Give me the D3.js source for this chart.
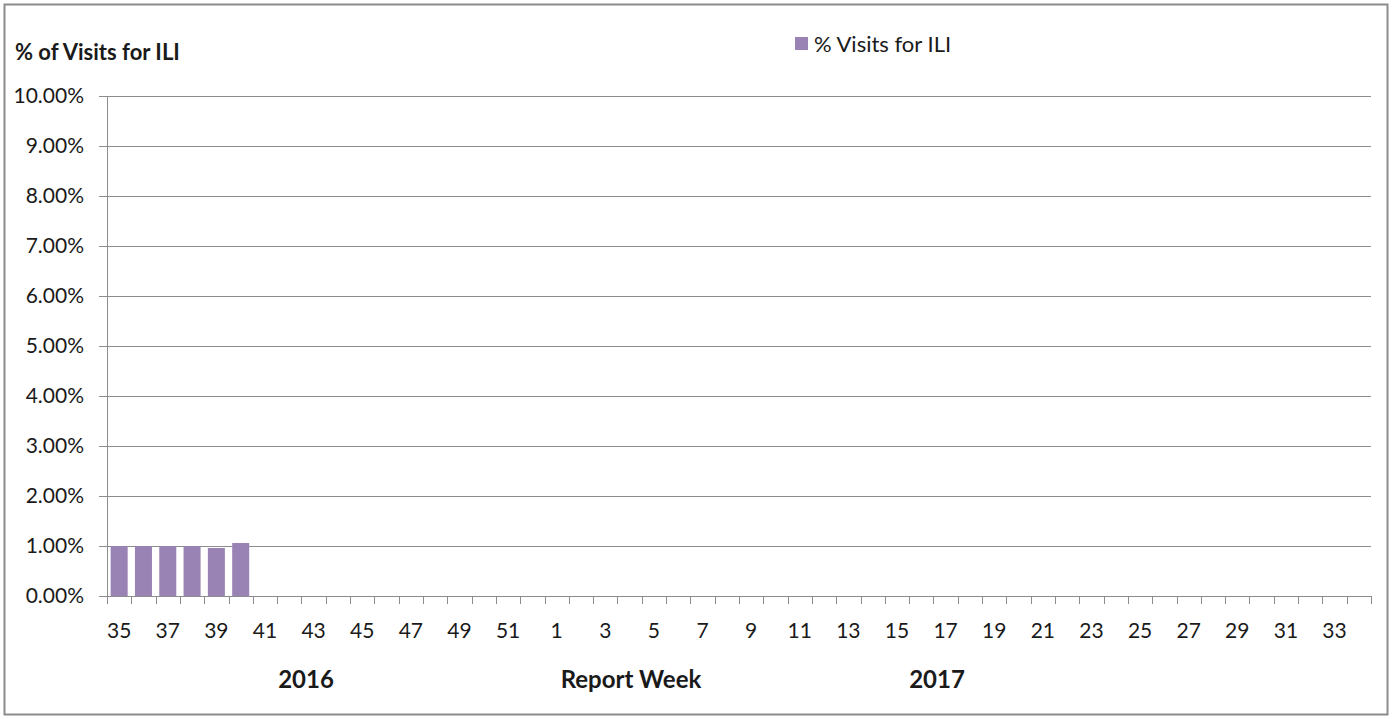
<!DOCTYPE html>
<html>
<head>
<meta charset="utf-8">
<script src="https://cdn.jsdelivr.net/npm/d3@7"></script>
<style>
  body { margin: 0; background: #fff; }
  svg text { font-family: Lato, "Open Sans", sans-serif; fill: #1a1a1a; }
</style>
</head>
<body>
<svg id="chart" width="1392" height="719"></svg>
<script>
// report weeks, season 2016-2017
const weeks = [35, 36, 37, 38, 39, 40, 41, 42, 43, 44, 45, 46, 47, 48, 49, 50, 51, 52,
  1, 2, 3, 4, 5, 6, 7, 8, 9, 10, 11, 12, 13, 14, 15, 16, 17, 18, 19, 20, 21, 22, 23, 24,
  25, 26, 27, 28, 29, 30, 31, 32, 33, 34];
const iliWeeks = [35, 36, 37, 38, 39, 40];
const iliValues = [0.0100, 0.0100, 0.0100, 0.0100, 0.0096, 0.0106];
const yTicks = [0, 0.01, 0.02, 0.03, 0.04, 0.05, 0.06, 0.07, 0.08, 0.09, 0.10];

const svg = d3.select('#chart');
const margin = { left: 107, right: 21, top: 96, bottom: 123 };
const width = 1392, height = 719;
const plotW = width - margin.left - margin.right;
const plotH = height - margin.top - margin.bottom;

// outer frame
svg.append('rect')
  .attr('x', 4.5).attr('y', 4.5)
  .attr('width', 1383).attr('height', 710)
  .attr('fill', 'none').attr('stroke', '#8c8c8c').attr('stroke-width', 2);

const x = d3.scaleBand().domain(weeks).range([0, plotW]).paddingInner(0.3).paddingOuter(0.15);
const y = d3.scaleLinear().domain([0, 0.10]).range([plotH, 0]);

const g = svg.append('g').attr('transform', `translate(${margin.left},${margin.top})`);

// grid lines
g.append('g')
  .selectAll('line')
  .data(yTicks)
  .join('line')
  .attr('x1', -8).attr('x2', plotW)
  .attr('y1', d => y(d) + 0.5).attr('y2', d => y(d) + 0.5)
  .attr('stroke', '#8c8c8c').attr('stroke-width', 1);

// y axis line
g.append('line')
  .attr('x1', 0.5).attr('x2', 0.5).attr('y1', 0).attr('y2', plotH)
  .attr('stroke', '#8c8c8c');

// y labels
g.append('g')
  .selectAll('text')
  .data(yTicks)
  .join('text')
  .attr('x', -23).attr('y', d => y(d))
  .attr('dy', '0.35em')
  .attr('text-anchor', 'end')
  .attr('font-size', 21)
  .text(d => d3.format('.2%')(d));

// x ticks at band boundaries
const bounds = d3.range(weeks.length + 1).map(i => i * plotW / weeks.length);
g.append('g')
  .selectAll('line')
  .data(bounds)
  .join('line')
  .attr('x1', d => Math.round(d) + 0.5).attr('x2', d => Math.round(d) + 0.5)
  .attr('y1', plotH).attr('y2', plotH + 8)
  .attr('stroke', '#8c8c8c');

// x labels every other week
g.append('g')
  .selectAll('text')
  .data(weeks.filter((w, i) => i % 2 === 0))
  .join('text')
  .attr('x', d => x(d) + x.bandwidth() / 2)
  .attr('y', 42)
  .attr('transform', `translate(0,${plotH})`)
  .attr('text-anchor', 'middle')
  .attr('font-size', 21)
  .text(d => d);

// bars
g.append('g')
  .selectAll('rect')
  .data(iliWeeks.map((w, i) => ({ week: w, value: iliValues[i] })))
  .join('rect')
  .attr('x', d => x(d.week))
  .attr('width', x.bandwidth())
  .attr('y', d => y(d.value))
  .attr('height', d => plotH - y(d.value))
  .attr('fill', '#9983b4');

// y title
svg.append('text')
  .attr('x', 15).attr('y', 60)
  .attr('font-size', 22).attr('font-weight', 'bold')
  .text('% of Visits for ILI');

// x titles
const bottom = [
  { label: '2016', cx: 306 },
  { label: 'Report Week', cx: 631 },
  { label: '2017', cx: 937 }
];
svg.append('g')
  .selectAll('text')
  .data(bottom)
  .join('text')
  .attr('x', d => d.cx).attr('y', 688)
  .attr('text-anchor', 'middle')
  .attr('font-size', 24).attr('font-weight', 'bold')
  .text(d => d.label);

// legend
const legend = svg.append('g').attr('transform', 'translate(795,37)');
legend.append('rect').attr('width', 13).attr('height', 13).attr('fill', '#9983b4');
legend.append('text').attr('x', 19).attr('y', 15).attr('font-size', 22).text('% Visits for ILI');
</script>
</body>
</html>
